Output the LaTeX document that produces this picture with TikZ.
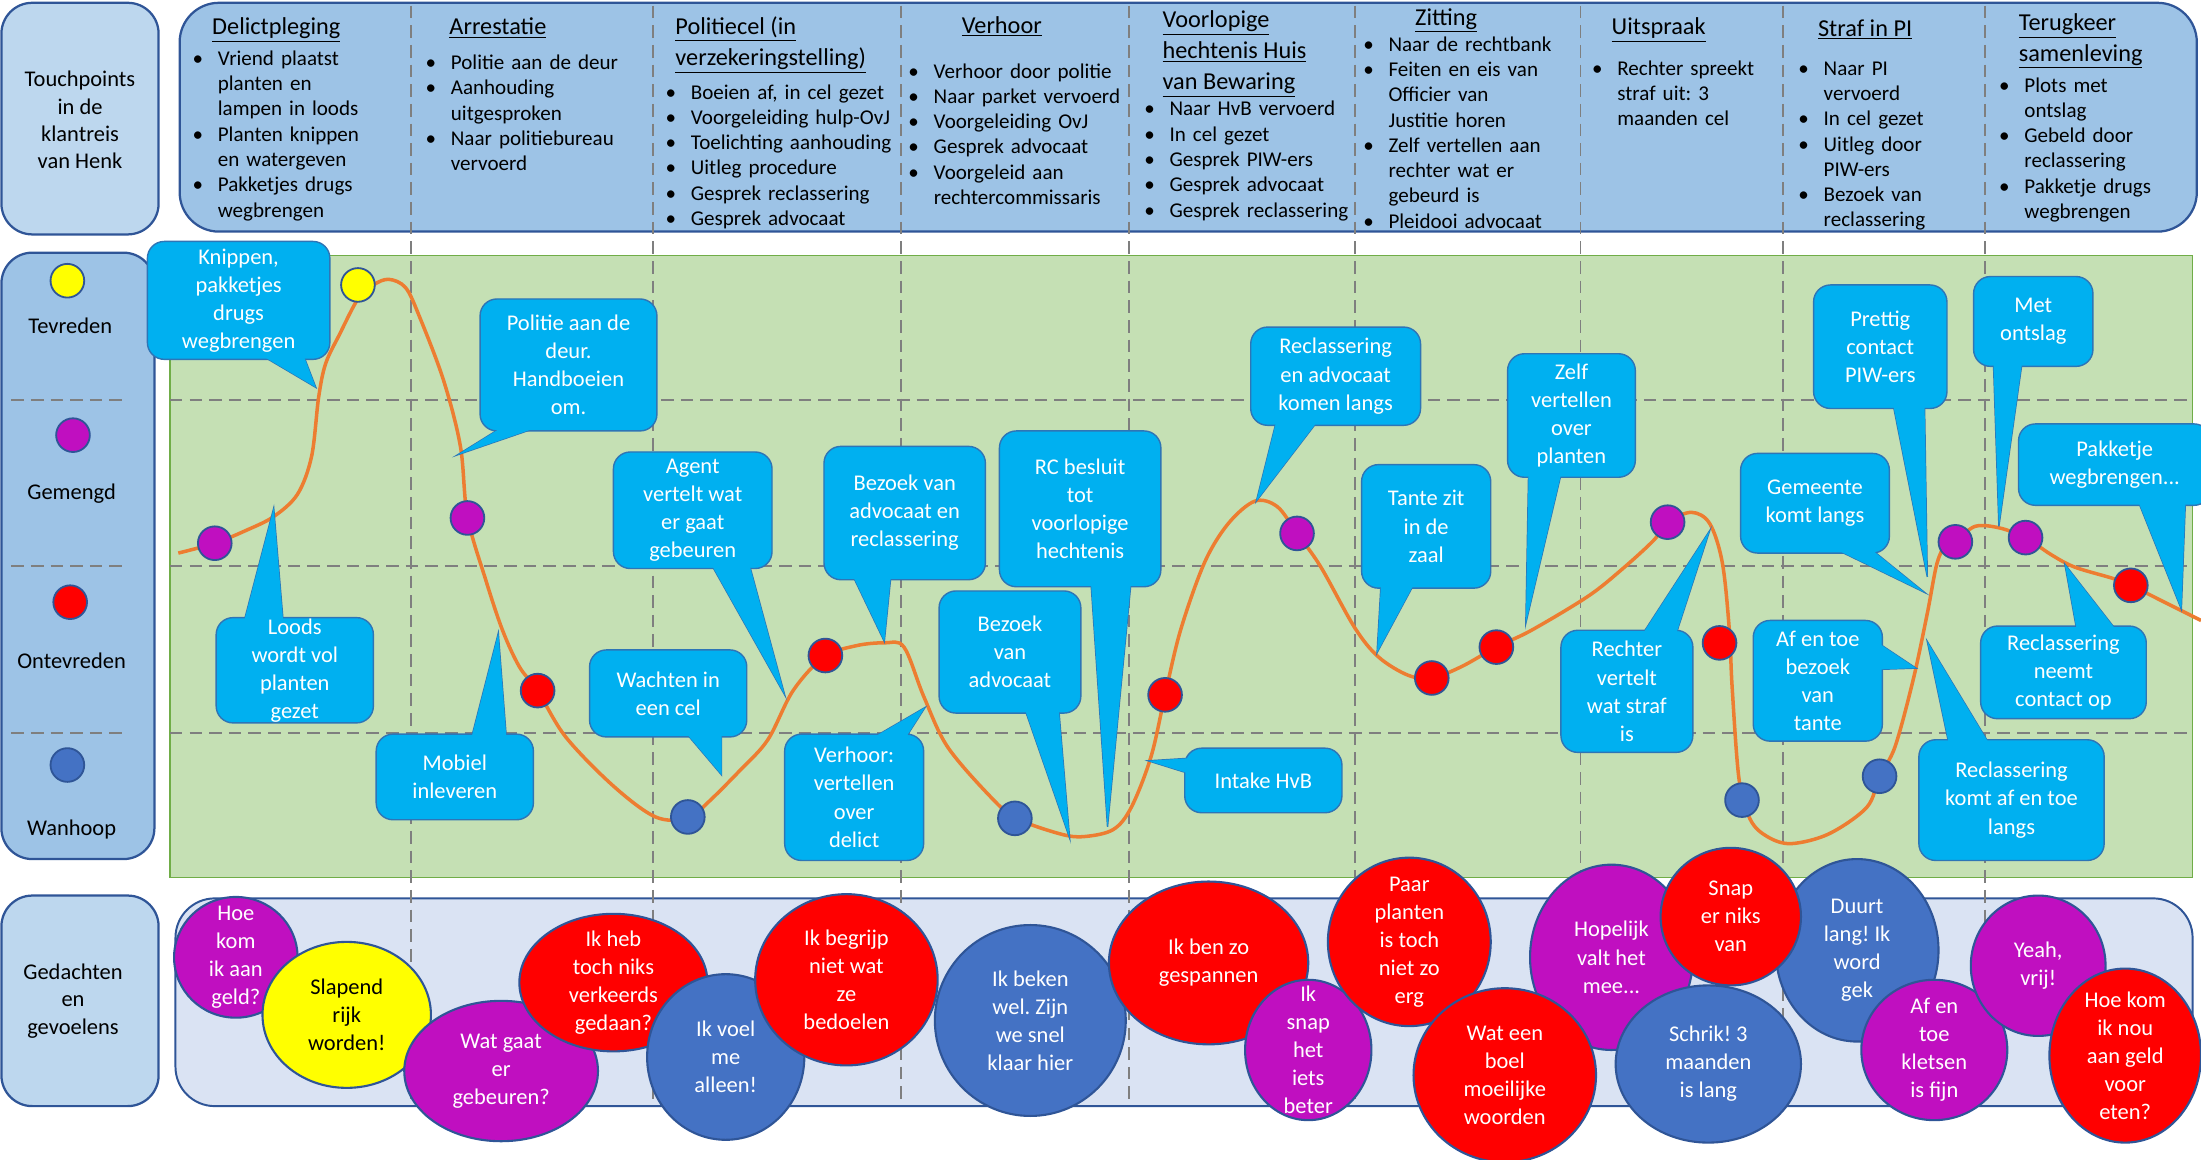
\documentclass[tikz,border=0pt]{standalone}
\usepackage{fontspec}
\setmainfont{Carlito}
\frenchspacing
\usetikzlibrary{calc, positioning}
\definecolor{headblue}{HTML}{9DC3E6}
\definecolor{paleblue}{HTML}{BDD7EE}
\definecolor{thoughtblue}{HTML}{DAE3F3}
\definecolor{darkblue}{HTML}{2F5597}
\definecolor{chartgreen}{HTML}{C5E0B4}
\definecolor{chartedge}{HTML}{70AD47}
\definecolor{callblue}{HTML}{00B0F0}
\definecolor{calledge}{HTML}{2E75B6}
\definecolor{curveorange}{HTML}{ED7D31}
\definecolor{sepgray}{HTML}{7F7F7F}
\definecolor{moodyellow}{HTML}{FFFF00}
\definecolor{moodpurple}{HTML}{C00FC0}
\definecolor{moodred}{HTML}{FF0000}
\definecolor{moodblue}{HTML}{4472C4}
\tikzset{
  boxline/.style={draw=darkblue, line width=1.6pt, rounded corners=22pt},
  sepline/.style={sepgray, line width=1.3pt, dash pattern=on 9pt off 5pt},
  dot/.style={circle, draw=darkblue, line width=1.3pt, minimum size=24pt, inner sep=0pt},
  calloutline/.style={fill=callblue, draw=calledge, line width=1pt},
  calloutfill/.style={fill=callblue},
  callouttext/.style={text=white, align=center, inner sep=0pt, font=\fontsize{16}{20}\selectfont},
  thoughtline/.style={draw=darkblue, line width=1.5pt},
  thoughttext/.style={align=center, inner sep=0pt, font=\fontsize{16}{20}\selectfont},
  hdtitle/.style={anchor=north west, inner sep=0pt, align=left, font=\fontsize{17.3}{22}\selectfont},
  hdlist/.style={anchor=north west, inner sep=0pt, text width=200pt, font=\fontsize{15}{18}\selectfont},
  sidetext/.style={align=center, inner sep=0pt, font=\fontsize{16}{19.5}\selectfont},
}
\newcommand{\itm}{\par\hangindent=18pt\hangafter=1\noindent\makebox[18pt][l]{\strut\textbullet}}
\newcommand{\nl}{\hfil\break}
\newcommand{\callout}[7]{%
  \filldraw[calloutline] #4 -- #6 -- #5 -- cycle;
  \filldraw[calloutline, rounded corners=12pt] #2 rectangle #3;
  \fill[calloutfill] #4 -- #6 -- #5 -- cycle;
  \node[callouttext] (#1) at ($#2!0.5!#3$) {#7};
}
\newcommand{\thought}[7]{%
  \filldraw[thoughtline, fill=#2] (#3) ellipse [x radius=#4, y radius=#5];
  \node[thoughttext, text=#6] (#1) at (#3) {#7};
}

\begin{document}
\begin{tikzpicture}[x=1pt, y=-1pt]
\useasboundingbox (0,0) rectangle (1568,826);

\draw[boxline, fill=paleblue] (1,2) rectangle (113,167);
\draw[boxline, fill=headblue] (1,180) rectangle (110,612);
\draw[boxline, fill=paleblue] (1,638) rectangle (113,788);
\draw[boxline, fill=headblue, rounded corners=28pt] (128,2) rectangle (1565,165);
\draw[chartedge, line width=1pt, fill=chartgreen] (121,182) rectangle (1562,625);
\draw[boxline, line width=1.4pt, fill=thoughtblue, rounded corners=28pt] (125,640) rectangle (1562,788);

\foreach \x in {293,465,642,804,965,1126,1270,1414}
  \draw[sepline] (\x,4) -- (\x,786);
\foreach \y in {285,403,522} {
  \draw[sepline] (121,\y) -- (1562,\y);
  \draw[sepline] (8,\y) -- (88,\y);
}

\node[sidetext] (touch) at (57,85.5) {Touchpoints\\in de\\klantreis\\van Henk};
\node[dot, fill=moodyellow] (lgyellow) at (48,200) {};
\node[sidetext] (tevreden) at (50,232) {Tevreden};
\node[dot, fill=moodpurple] (lgpurple) at (52,310) {};
\node[sidetext] (gemengd) at (51,352) {Gemengd};
\node[dot, fill=moodred] (lgred) at (50,429) {};
\node[sidetext] (ontevreden) at (51,471) {Ontevreden};
\node[dot, fill=moodblue] (lgblue) at (48,545) {};
\node[sidetext] (wanhoop) at (51,591) {Wanhoop};
\node[sidetext] (gedachten) at (52,713) {Gedachten\\en\\gevoelens};

\node[hdtitle] (t1) at (151,9.3) {\strut\underline{Delictpleging}};
\node[hdlist] (l1) at (137,28.4) {\itm Vriend plaatst\nl planten en\nl lampen in loods \itm Planten knippen\nl en watergeven \itm Pakketjes drugs\nl wegbrengen\par};
\node[hdtitle] (t2) at (320,9.3) {\strut\underline{Arrestatie}};
\node[hdlist] (l2) at (303,31.4) {\itm Politie aan de deur \itm Aanhouding\nl uitgesproken \itm Naar politiebureau\nl vervoerd\par};
\node[hdtitle] (t3) at (481,9.3) {\strut\underline{Politiecel (in}\\\strut\underline{verzekeringstelling)}};
\node[hdlist] (l3) at (474,52.4) {\itm Boeien af, in cel gezet \itm Voorgeleiding hulp-OvJ \itm Toelichting aanhouding \itm Uitleg procedure \itm Gesprek reclassering \itm Gesprek advocaat\par};
\node[hdtitle] (t4) at (685,8.3) {\strut\underline{Verhoor}};
\node[hdlist] (l4) at (647,37.4) {\itm Verhoor door politie \itm Naar parket vervoerd \itm Voorgeleiding OvJ \itm Gesprek advocaat \itm Voorgeleid aan\nl rechtercommissaris\par};
\node[hdtitle] (t5) at (828,4.3) {\strut\underline{Voorlopige}\\\strut\underline{hechtenis Huis}\\\strut\underline{van Bewaring}};
\node[hdlist] (l5) at (815,64.4) {\itm Naar HvB vervoerd \itm In cel gezet \itm Gesprek PIW-ers \itm Gesprek advocaat \itm Gesprek reclassering\par};
\node[hdtitle] (t6) at (1008,2.3) {\strut\underline{Zitting}};
\node[hdlist] (l6) at (971,18.4) {\itm Naar de rechtbank \itm Feiten en eis van\nl Officier van\nl Justitie horen \itm Zelf vertellen aan\nl rechter wat er\nl gebeurd is \itm Pleidooi advocaat\par};
\node[hdtitle] (t7) at (1148,9.3) {\strut\underline{Uitspraak}};
\node[hdlist] (l7) at (1134,35.4) {\itm Rechter spreekt\nl straf uit: 3\nl maanden cel\par};
\node[hdtitle] (t8) at (1295,10.3) {\strut\underline{Straf in PI}};
\node[hdlist] (l8) at (1281,35.4) {\itm Naar PI\nl vervoerd \itm In cel gezet \itm Uitleg door\nl PIW-ers \itm Bezoek van\nl reclassering\par};
\node[hdtitle] (t9) at (1438,6.3) {\strut\underline{Terugkeer}\\\strut\underline{samenleving}};
\node[hdlist] (l9) at (1424,47.4) {\itm Plots met\nl ontslag \itm Gebeld door\nl reclassering \itm Pakketje drugs\nl wegbrengen\par};

\draw[curveorange, line width=2.5pt] plot[smooth, tension=.55] coordinates {
  (127,394) (153,387) (175,378) (195,368) (212,352) (222,325) (227,283) (232,259)
  (242,238) (255,213) (266,203) (277,199) (289,205) (299,226) (316,271) (328,318)
  (333,368) (346,413) (358,449) (370,475) (383,492) (403,525) (437,560) (467,582)
  (490,583) (504,572) (527,549) (547,527) (565,492) (587,468) (610,460) (630,458)
  (644,461) (658,496) (675,532) (706,568) (724,583) (755,594) (772,596) (793,591)
  (806,575) (820,539) (830,495) (841,449) (858,401) (875,373) (894,357) (910,361)
  (924,380) (941,404) (965,447) (982,468) (1003,481) (1020,483) (1041,475) (1066,461)
  (1091,449) (1131,425) (1155,406) (1178,385) (1188,372) (1205,365) (1218,373) (1227,401)
  (1232,449) (1234,490) (1239,556) (1247,584) (1259,596) (1276,601) (1303,594) (1330,575)
  (1339,553) (1350,532) (1363,484) (1373,437) (1380,401) (1387,387) (1394,385) (1407,375)
  (1424,376) (1443,383) (1461,395) (1478,404) (1505,412) (1518,417) (1538,427) (1568,442)};

\node[dot, fill=moodpurple] (m1) at (153,387) {};
\node[dot, fill=moodyellow] (y1) at (255,203) {};
\node[dot, fill=moodpurple] (m2) at (333,369) {};
\node[dot, fill=moodred] (r1) at (383,492) {};
\node[dot, fill=moodblue] (b1) at (490,582) {};
\node[dot, fill=moodred] (r2) at (588,467) {};
\node[dot, fill=moodblue] (b2) at (723,583) {};
\node[dot, fill=moodred] (r3) at (830,495) {};
\node[dot, fill=moodpurple] (m3) at (924,380) {};
\node[dot, fill=moodred] (r4) at (1020,483) {};
\node[dot, fill=moodred] (r5) at (1066,461) {};
\node[dot, fill=moodpurple] (m4) at (1188,372) {};
\node[dot, fill=moodred] (r6) at (1225,458) {};
\node[dot, fill=moodblue] (b3) at (1241,570) {};
\node[dot, fill=moodblue] (b4) at (1339,553) {};
\node[dot, fill=moodpurple] (m5) at (1393,386) {};
\node[dot, fill=moodpurple] (m6) at (1443,383) {};
\node[dot, fill=moodred] (r7) at (1518,417) {};

\callout{knip}{(105,172)}{(235,256)}{(181,250)}{(215,250)}{(225,276)}{Knippen,\\pakketjes\\drugs\\wegbrengen}
\callout{politie}{(342,213)}{(468,307)}{(363,301)}{(393,301)}{(326,324)}{Politie aan de\\deur.\\Handboeien\\om.}
\callout{loods}{(154,440)}{(266,515)}{(173,446)}{(202,446)}{(195,362)}{Loods\\wordt vol\\planten\\gezet}
\callout{mobiel}{(268,523)}{(380,584)}{(335,529)}{(361,529)}{(355,451)}{Mobiel\\inleveren}
\callout{agent}{(437,322)}{(550,405)}{(505,399)}{(533,399)}{(559,495)}{Agent\\vertelt wat\\er gaat\\gebeuren}
\callout{wachten}{(420,463)}{(532,525)}{(486,519)}{(514,519)}{(514,552)}{Wachten in\\een cel}
\callout{bezoekadv}{(587,318)}{(702,413)}{(606,407)}{(635,407)}{(630,457)}{Bezoek van\\advocaat en\\reclassering}
\callout{verhoor}{(559,523)}{(658,613)}{(616,529)}{(643,529)}{(659,504)}{Verhoor:\\vertellen\\over\\delict}
\callout{bezoekvan}{(669,421)}{(770,508)}{(729,502)}{(754,502)}{(762,597)}{Bezoek\\van\\advocaat}
\callout{rc}{(712,307)}{(827,418)}{(777,412)}{(806,412)}{(789,589)}{RC besluit\\tot\\voorlopige\\hechtenis}
\callout{reclad}{(891,233)}{(1012,303)}{(910,297)}{(941,297)}{(895,357)}{Reclassering\\en advocaat\\komen langs}
\callout{intake}{(844,533)}{(956,579)}{(850,540)}{(850,552)}{(818,542)}{Intake HvB}
\callout{tante}{(970,331)}{(1062,419)}{(984,413)}{(1009,413)}{(981,465)}{Tante zit\\in de\\zaal}
\callout{zelf}{(1074,252)}{(1165,340)}{(1089,334)}{(1113,334)}{(1087,444)}{Zelf\\vertellen\\over\\planten}
\callout{rechter}{(1112,449)}{(1206,536)}{(1168,455)}{(1193,455)}{(1218,378)}{Rechter\\vertelt\\wat straf\\is}
\callout{prettig}{(1292,203)}{(1387,291)}{(1348,285)}{(1371,285)}{(1373,411)}{Prettig\\contact\\PIW-ers}
\callout{gemeente}{(1240,323)}{(1346,394)}{(1301,388)}{(1329,388)}{(1371,422)}{Gemeente\\komt langs}
\callout{ontslag}{(1406,197)}{(1491,261)}{(1420,255)}{(1441,255)}{(1424,375)}{Met\\ontslag}
\callout{pakketje}{(1438,302)}{(1575,360)}{(1522,354)}{(1557,354)}{(1554,434)}{Pakketje\\wegbrengen...}
\callout{neemt}{(1411,446)}{(1529,512)}{(1480,452)}{(1510,452)}{(1471,402)}{Reclassering\\neemt\\contact op}
\callout{tantebezoek}{(1249,442)}{(1341,528)}{(1335,456)}{(1335,477)}{(1365,476)}{Af en toe\\bezoek\\van\\tante}
\callout{reckomt}{(1367,527)}{(1499,613)}{(1389,533)}{(1419,533)}{(1373,457)}{Reclassering\\komt af en toe\\langs}

\thought{hoe}{moodpurple}{168,682}{44}{43}{white}{Hoe\\kom\\ik aan\\geld?}
\thought{slapend}{moodyellow}{247,723}{60}{52}{black}{Slapend\\rijk\\worden!}
\thought{watgaat}{moodpurple}{357,763}{69}{50}{white}{Wat gaat\\er\\gebeuren?}
\thought{ikheb}{moodred}{437,700}{67}{49}{white}{Ik heb\\toch niks\\verkeerds\\gedaan?}
\thought{ikvoel}{moodblue}{517,753}{56}{59}{white}{Ik voel\\me\\alleen!}
\thought{begrijp}{moodred}{603,698}{65}{61}{white}{Ik begrijp\\niet wat\\ze\\bedoelen}
\thought{beken}{moodblue}{734,727}{68}{68}{white}{Ik beken\\wel. Zijn\\we snel\\klaar hier}
\thought{benzo}{moodred}{861,686}{71}{58}{white}{Ik ben zo\\gespannen}
\thought{snaphet}{moodpurple}{932,748}{45}{50}{white}{Ik\\snap\\het\\iets\\beter}
\thought{paar}{moodred}{1004,671}{58}{60}{white}{Paar\\planten\\is toch\\niet zo\\erg}
\thought{hopelijk}{moodpurple}{1148,682}{58}{66}{white}{Hopelijk\\valt het\\mee...}
\thought{watboel}{moodred}{1072,766}{65}{62}{white}{Wat een\\boel\\moeilijke\\woorden}
\thought{schrik}{moodblue}{1217,758}{66}{56}{white}{Schrik! 3\\maanden\\is lang}
\thought{duurt}{moodblue}{1323,677}{58}{65}{white}{Duurt\\lang! Ik\\word\\gek}
\thought{snaper}{moodred}{1233,653}{50}{49}{white}{Snap\\er niks\\van}
\thought{aftoe}{moodpurple}{1378,748}{52}{50}{white}{Af en\\toe\\kletsen\\is fijn}
\thought{yeah}{moodpurple}{1452,688}{48}{50}{white}{Yeah,\\vrij!}
\thought{hoekom}{moodred}{1514,752}{54}{62}{white}{Hoe kom\\ik nou\\aan geld\\voor\\eten?}
\end{tikzpicture}
\end{document}
